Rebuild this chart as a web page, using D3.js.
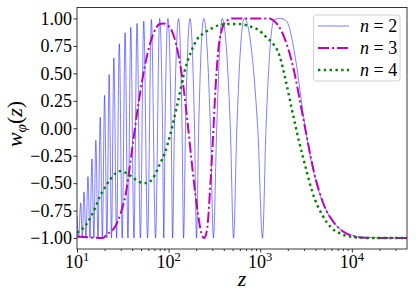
<!DOCTYPE html>
<html>
<head>
<meta charset="utf-8">
<script src="https://cdn.jsdelivr.net/npm/d3@7"></script>
<style>
  html, body { margin: 0; padding: 0; background: #fff; }
</style>
</head>
<body>
<div id="chart"></div>
<script>
/* w_phi(z) for n = 2, 3, 4 — log-x line chart */

const FONT = "Liberation Serif";

/* ---------------- DATA ---------------- */
// n = 2 : thin oscillating line, [z, w]
const N2 = [
  [10, -0.80], [10.41, -1], [10.97, -0.68], [11.43, -1], [11.92, -0.58], [12.53, -1],
  [13.17, -0.44], [13.85, -1], [14.56, -0.28], [15.28, -1], [16.05, -0.11], [16.96, -1],
  [17.92, 0.10], [18.93, -1], [20.0, 0.30], [21.19, -1], [22.44, 0.49], [23.80, -1],
  [25.24, 0.64], [27.04, -1], [28.97, 0.77], [31.15, -1], [33.50, 0.87], [35.97, -1],
  [38.64, 0.92], [41.81, -1], [45.23, 0.955], [49.19, -1], [53.51, 0.975], [58.92, -1],
  [64.88, 0.99], [71.97, -1], [79.82, 1], [85.83, 0], [88.56, -1], [91.37, 0],
  [98.26, 1], [106.7, 0], [110.5, -1], [115.6, 0], [128.5, 1], [140.2, 0],
  [145.6, -1], [153.0, 0], [171.3, 1], [191.7, 0], [201.6, -1], [213.0, 0],
  [241.9, 1], [286.1, 0], [308.4, -1], [335.0, 0], [383.4, 1], [472.0, 0],
  [511.4, -1], [555.5, 0], [670, 1], [939.3, 0], [1059, -1], [1156, 0],
  [1420, 0.99], [1650, 1], [1918, 0.98], [2463, 0.6], [2862, 0.2], [3326, -0.15],
  [3961, -0.45], [5087, -0.72], [7223, -0.91], [9752, -0.97], [13506, -0.995], [40000, -1]
];
// n = 3 : dash-dot
const N3 = [
  [10, -0.985], [13.85, -0.995], [19.17, -1.0], [21.03, -0.97], [25.88, -0.90], [30.08, -0.77],
  [34.69, -0.56], [37.68, -0.35], [41.34, -0.10], [46.38, 0.20], [52.58, 0.48], [59.57, 0.70],
  [68.72, 0.87], [79.82, 0.95], [87.13, 0.955], [102.5, 0.92], [121.3, 0.76], [143.0, 0.42],
  [162.1, 0.03], [183.7, -0.40], [208.2, -0.77], [228.4, -0.96], [243.2, -1.0], [262.1, -0.93],
  [286.1, -0.50], [304.6, -0.10], [324.3, 0.35], [349.6, 0.72], [381.5, 0.90], [427.0, 0.975],
  [496.2, 1.0], [1253, 1.0], [1350, 0.99], [1824, 0.83], [2342, 0.52], [2769, 0.21],
  [3243, -0.09], [3863, -0.40], [4962, -0.70], [6375, -0.86], [7223, -0.91], [9275, -0.97],
  [12846, -0.995], [19656, -1.0], [40000, -1.0]
];
// n = 4 : dotted
const N4 = [
  [10, -0.95], [10.97, -0.93], [12.53, -0.88], [14.09, -0.81], [16.09, -0.71], [17.78, -0.62],
  [20.15, -0.54], [22.84, -0.47], [26.54, -0.41], [30.08, -0.39], [34.96, -0.41], [40.93, -0.45],
  [48.39, -0.49], [57.23, -0.50], [67.52, -0.455], [79.82, -0.33], [90.46, -0.23], [102.5, -0.08],
  [126.2, 0.24], [149.3, 0.52], [176.5, 0.70], [208.2, 0.82], [246.3, 0.87], [303.1, 0.915],
  [358.4, 0.94], [460.3, 0.95], [591.2, 0.95], [759.4, 0.93], [975.3, 0.89], [1200, 0.82],
  [1350, 0.78], [1609, 0.67], [1903, 0.43], [2244, 0.15], [2654, -0.12], [3139, -0.36],
  [3702, -0.58], [4755, -0.79], [5868, -0.90], [7537, -0.96], [10000, -0.99], [15303, -1.0],
  [40000, -1.0]
];

const X_DOMAIN = [10, 40000];
const X_TICKS = [10, 100, 1000, 10000];
const X_TICK_EXP = ["1", "2", "3", "4"];
const Y_DOMAIN = [-1.1, 1.1];
const Y_TICKS = [-1, -0.75, -0.5, -0.25, 0, 0.25, 0.5, 0.75, 1];
const LEGEND = ["2", "3", "4"];

/* ---------------- LAYOUT ---------------- */
const W = 416, H = 296;
const M = {left: 77, right: 9, top: 7.5, bottom: 47};

const svg = d3.select("#chart").append("svg")
  .attr("width", W).attr("height", H)
  .attr("font-family", FONT);

const x = d3.scaleLog().domain(X_DOMAIN).range([M.left, W - M.right]);
const y = d3.scaleLinear().domain(Y_DOMAIN).range([H - M.bottom, M.top]);

svg.append("clipPath").attr("id", "plot-clip")
  .append("rect")
  .attr("x", M.left).attr("y", M.top)
  .attr("width", W - M.left - M.right).attr("height", H - M.top - M.bottom);

const line = d3.line()
  .curve(d3.curveMonotoneX)
  .x(d => x(d[0])).y(d => y(d[1]));

const series = [
  {data: N2, color: "#0000ff", opacity: 0.5, width: 1, dash: null},
  {data: N3, color: "#bf00bf", opacity: 1, width: 2, dash: "11,3,2,3"},
  {data: N4, color: "#008000", opacity: 1, width: 2.4, dash: "2.4,3.4"}
];

const plot = svg.append("g").attr("clip-path", "url(#plot-clip)");
plot.selectAll("path.series")
  .data(series)
  .join("path")
  .attr("class", "series")
  .attr("fill", "none")
  .attr("stroke", d => d.color)
  .attr("stroke-opacity", d => d.opacity)
  .attr("stroke-width", d => d.width)
  .attr("stroke-dasharray", d => d.dash)
  .attr("d", d => line(d.data));

/* ---------------- AXES ---------------- */
// minor log ticks
const minor = [];
for (let e = 1; e <= 4; e++)
  for (let k = 2; k <= 9; k++) {
    const v = k * Math.pow(10, e);
    if (v < X_DOMAIN[1]) minor.push(v);
  }

const xAxisG = svg.append("g")
  .attr("transform", `translate(0,${H - M.bottom})`);
xAxisG.append("g")
  .call(d3.axisBottom(x).tickValues(X_TICKS).tickSize(3.5).tickFormat(""))
  .call(g => g.select(".domain").remove());
xAxisG.append("g")
  .call(d3.axisBottom(x).tickValues(minor).tickSize(2).tickFormat(""))
  .call(g => g.select(".domain").remove());
xAxisG.selectAll("line").attr("stroke", "#000").attr("stroke-width", 0.8);

const xLab = svg.append("g").selectAll("text")
  .data(X_TICKS)
  .join("text")
  .attr("x", d => x(d))
  .attr("y", 268)
  .attr("text-anchor", "middle")
  .attr("font-family", FONT)
  .attr("font-size", 18);
xLab.append("tspan").text("10");
xLab.append("tspan")
  .attr("dy", -7)
  .attr("font-size", 12.5)
  .text((d, i) => X_TICK_EXP[i]);

svg.append("g")
  .attr("transform", `translate(${M.left},0)`)
  .call(d3.axisLeft(y).tickValues(Y_TICKS).tickSize(3.5).tickPadding(1.5)
    .tickFormat(d3.format(".2f")))
  .attr("font-family", FONT)
  .attr("font-size", 18)
  .call(g => g.select(".domain").remove())
  .call(g => g.selectAll("line").attr("stroke", "#000").attr("stroke-width", 0.8))
  .call(g => g.selectAll("text").attr("font-family", FONT).attr("fill", "#000"));

// frame
svg.append("rect")
  .attr("x", M.left).attr("y", M.top)
  .attr("width", W - M.left - M.right).attr("height", H - M.top - M.bottom)
  .attr("fill", "none").attr("stroke", "#222").attr("stroke-width", 0.9);

// axis labels
svg.append("text")
  .attr("x", (M.left + W - M.right) / 2).attr("y", 286)
  .attr("text-anchor", "middle")
  .attr("font-family", FONT)
  .attr("font-size", 22).attr("font-style", "italic")
  .text("z");

const yl = svg.append("text")
  .attr("transform", "translate(22,124) rotate(-90)")
  .attr("text-anchor", "middle")
  .attr("font-family", FONT)
  .attr("font-size", 22);
yl.append("tspan").attr("font-style", "italic").text("w");
yl.append("tspan").attr("dy", 4).attr("font-size", 15).attr("font-style", "italic").text("φ");
yl.append("tspan").attr("dy", -4).text("(");
yl.append("tspan").attr("font-style", "italic").text("z");
yl.append("tspan").text(")");

/* ---------------- LEGEND ---------------- */
const leg = svg.append("g");
leg.append("rect")
  .attr("x", 313.5).attr("y", 15).attr("width", 86.5).attr("height", 66)
  .attr("rx", 3)
  .attr("fill", "#fff").attr("fill-opacity", 0.8)
  .attr("stroke", "#ccc").attr("stroke-width", 0.9);

const rows = leg.selectAll("g.row")
  .data(series)
  .join("g")
  .attr("class", "row")
  .attr("transform", (d, i) => `translate(0,${26 + i * 22})`);
rows.append("line")
  .attr("x1", 318).attr("x2", 349)
  .attr("stroke", d => d.color)
  .attr("stroke-opacity", d => d.opacity)
  .attr("stroke-width", d => d.width)
  .attr("stroke-dasharray", d => d.dash);
const lt = rows.append("text")
  .attr("x", 360).attr("y", 5.5)
  .attr("font-family", FONT)
  .attr("font-size", 18);
lt.append("tspan").attr("font-style", "italic").text("n");
lt.append("tspan").text((d, i) => " = " + LEGEND[i]);
</script>
</body>
</html>
